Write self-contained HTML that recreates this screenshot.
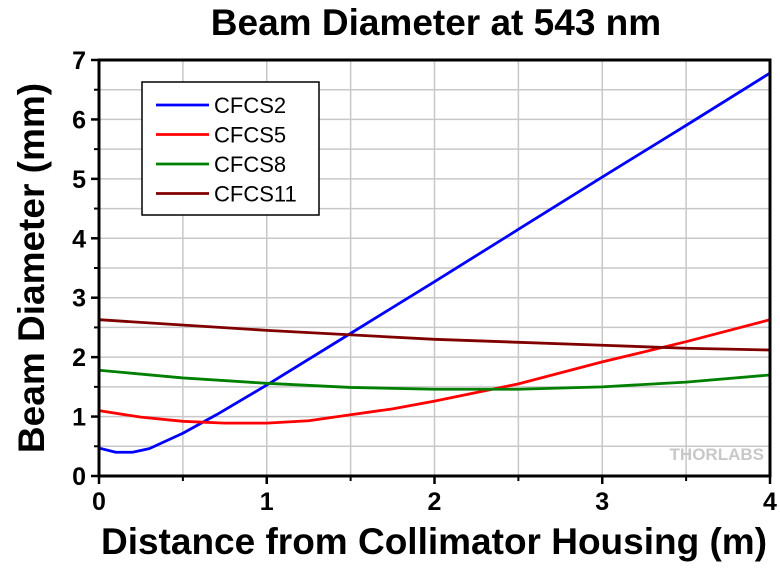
<!DOCTYPE html>
<html><head><meta charset="utf-8"><style>
body{margin:0;background:#fff}
svg text{font-family:"Liberation Sans",Arial,sans-serif}
</style></head><body>
<svg id="chart" width="780" height="563" xmlns="http://www.w3.org/2000/svg">
<g id="grid"></g>
<g id="series"></g>
<g id="axes"></g>
<text x="436" y="35" text-anchor="middle" font-size="37" font-weight="bold">Beam Diameter at 543 nm</text>
<text x="434" y="554" text-anchor="middle" font-size="37" font-weight="bold">Distance from Collimator Housing (m)</text>
<text transform="translate(44,268) rotate(-90)" text-anchor="middle" font-size="37" font-weight="bold">Beam Diameter (mm)</text>
<text x="764" y="460" text-anchor="end" font-size="17" font-weight="bold" fill="#c8c8c8">THORLABS</text>
<g>
<rect x="142" y="82" width="177" height="133" fill="#fff" stroke="#000" stroke-width="1.5"/>
<g id="legend-items"></g>
</g>
</svg>
<script>
const xTicks=[0,1,2,3,4];
const yTicks=[0,1,2,3,4,5,6,7];
const seriesNames=["CFCS2","CFCS5","CFCS8","CFCS11"];
const seriesColors=["#0000ff","#ff0000","#008000","#800000"];
const xCFCS2=[0,0.1,0.2,0.3,0.5,0.7,1,1.5,2,2.5,3,3.5,4];
const yCFCS2=[0.47,0.40,0.40,0.46,0.72,1.03,1.53,2.4,3.27,4.15,5.03,5.9,6.78];
const xCFCS5=[0,0.25,0.5,0.75,1,1.25,1.5,1.75,2,2.5,3,3.5,4];
const yCFCS5=[1.1,0.99,0.92,0.89,0.89,0.93,1.03,1.13,1.26,1.55,1.92,2.26,2.63];
const xCFCS8=[0,0.5,1,1.5,2,2.5,3,3.5,4];
const yCFCS8=[1.78,1.65,1.56,1.49,1.46,1.46,1.5,1.58,1.7];
const xCFCS11=[0,1,2,3,3.5,4];
const yCFCS11=[2.63,2.45,2.3,2.2,2.15,2.12];
const xs=[xCFCS2,xCFCS5,xCFCS8,xCFCS11], ys=[yCFCS2,yCFCS5,yCFCS8,yCFCS11];
const L=99,R=770,T=60,B=476;
const X=v=>L+(R-L)*v/4, Y=v=>B-(B-T)*v/7;
const NS="http://www.w3.org/2000/svg";
function mk(tag,attrs,parent){const e=document.createElementNS(NS,tag);for(const k in attrs)e.setAttribute(k,attrs[k]);parent.appendChild(e);return e;}
const grid=document.getElementById('grid'),axes=document.getElementById('axes'),ser=document.getElementById('series');
for(let v=0;v<=4;v+=0.5){const l=mk('line',{x1:X(v),x2:X(v),y1:T,y2:B,stroke:'#c8c8c8','stroke-width':1.5},grid);

}
for(let v=0;v<=7;v+=0.5){const l=mk('line',{x1:L,x2:R,y1:Y(v),y2:Y(v),stroke:'#c8c8c8','stroke-width':1.5},grid);

}
for(let i=0;i<4;i++){
 const p=mk('polyline',{points:xs[i].map((x,j)=>X(x)+','+Y(ys[i][j])).join(' '),fill:'none',stroke:seriesColors[i],'stroke-width':2.8,'stroke-linejoin':'round'},ser);
 
 
}
const fr=mk('rect',{x:L,y:T,width:R-L,height:B-T,fill:'none',stroke:'#000','stroke-width':3},axes);


xTicks.forEach(v=>{mk('line',{x1:X(v),x2:X(v),y1:B,y2:B+8,stroke:'#000','stroke-width':2.5},axes);
 const t=mk('text',{x:X(v),y:B+34,'text-anchor':'middle','font-size':25,'font-weight':'bold'},axes);t.textContent=v;
 
 });
for(let v=0.5;v<4;v+=1)mk('line',{x1:X(v),x2:X(v),y1:B,y2:B+5,stroke:'#000','stroke-width':2},axes);
yTicks.forEach(v=>{mk('line',{x1:L-8,x2:L,y1:Y(v),y2:Y(v),stroke:'#000','stroke-width':2.5},axes);
 const t=mk('text',{x:L-13,y:Y(v)+9,'text-anchor':'end','font-size':25,'font-weight':'bold'},axes);t.textContent=v;
 
 });
for(let v=0.5;v<7;v+=1)mk('line',{x1:L-5,x2:L,y1:Y(v),y2:Y(v),stroke:'#000','stroke-width':2},axes);
const lg=document.getElementById('legend-items');
seriesNames.forEach((n,i)=>{const y=105+i*29.5;
 const g=mk('g',{},lg);
 
 
 mk('line',{x1:156,x2:209,y1:y,y2:y,stroke:seriesColors[i],'stroke-width':2.8},g);
 const t=mk('text',{x:214,y:y+8,'font-size':22},g);t.textContent=n;});
</script>
</body></html>
